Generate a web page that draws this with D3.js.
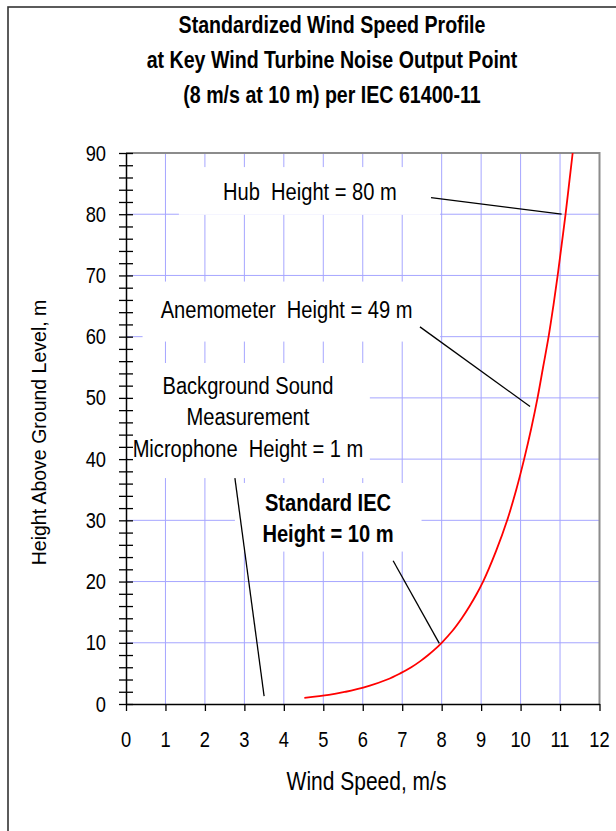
<!DOCTYPE html>
<html><head><meta charset="utf-8">
<script src="https://cdn.jsdelivr.net/npm/d3@7/dist/d3.min.js"></script>
<style>
body{margin:0;background:#fff}
svg{display:block}
text{font-family:"Liberation Sans",Arial,Helvetica,sans-serif;fill:#000;white-space:pre}
</style>
</head><body>
<svg id="c" width="616" height="831"></svg>
<script>
// ---- data ----
const heights = [1,1.5,2,3,4,5,6,7,8,9,10,12,14,16,18,20,25,30,35,40,45,50,55,60,65,70,75,80,85,90];
const speeds  = [4.52,5.14,5.57,6.18,6.62,6.95,7.23,7.46,7.66,7.84,8.00,8.28,8.51,8.71,8.89,9.05,9.38,9.66,9.89,10.09,10.27,10.43,10.57,10.71,10.83,10.94,11.04,11.14,11.23,11.32];
const xTickValues = [0,1,2,3,4,5,6,7,8,9,10,11,12];
const yTickLabels = [0,10,20,30,40,50,60,70,80,90];
const yMinorTicks = d3.range(0, 91, 2);
const titleLines = ["Standardized Wind Speed Profile","at Key Wind Turbine Noise Output Point","(8 m/s at 10 m) per IEC 61400-11"];
const xTitle = "Wind Speed, m/s";
const yTitle = "Height Above Ground Level, m";
// annotation: text lines, text centre (speed, height of first baseline), box extent, leader from/to
const annLines  = [["Hub  Height = 80 m"],["Anemometer  Height = 49 m"],["Background Sound","Measurement","Microphone  Height = 1 m"],["Standard IEC","Height = 10 m"]];
const annBold   = [false,false,false,true];
const annAnchor = [[4.66,82.4],[4.07,63.0],[3.09,50.7],[5.12,31.6]];
const annBox    = [[1.34,7.96,79.9,87.7],[0.42,7.96,59.2,69.0],[0.05,6.18,36.9,55.7],[2.76,7.49,24.9,36.1]];
const annLeader = [[[7.73,82.7],[11.04,80.0]],[[7.45,61.6],[10.24,48.6]],[[2.76,36.9],[3.50,1.3]],[[6.77,23.4],[7.94,9.9]]];

// ---- layout ----
const W = 616, H = 831;
const L = 126, R = 599.5, T = 153, B = 704;
const SY = 1.21; // vertical stretch of the lettering
const svg = d3.select("#c");
const x = d3.scaleLinear().domain([0,12]).range([L,R]);
const y = d3.scaleLinear().domain([0,90]).range([B,T]);

function txt(g, tx, ty, s, size, anchor, bold){
  return g.append("text").attr("transform",`translate(${tx},${ty}) scale(1,${SY})`)
    .attr("xml:space","preserve")
    .attr("text-anchor",anchor).attr("font-size",size).attr("font-weight",bold?"bold":"normal").text(s);
}

// frame
svg.append("rect").attr("x",8).attr("y",7).attr("width",W+20).attr("height",H+20)
  .attr("fill","#fff").attr("stroke","#333").attr("stroke-width",1.6);

// gridlines
const grid = svg.append("g").attr("stroke","#a6a6ff").attr("stroke-width",1);
grid.selectAll("line.v").data(xTickValues.filter(d=>d>0&&d<12)).join("line")
  .attr("x1",d=>x(d)).attr("x2",d=>x(d)).attr("y1",T).attr("y2",B);
grid.selectAll("line.h").data(yTickLabels.filter(d=>d>0&&d<90)).join("line")
  .attr("y1",d=>y(d)).attr("y2",d=>y(d)).attr("x1",L).attr("x2",R);

// white boxes behind labels
svg.append("g").selectAll("rect").data(annBox).join("rect")
  .attr("x",d=>x(d[0])).attr("width",d=>x(d[1])-x(d[0]))
  .attr("y",d=>y(d[3])).attr("height",d=>y(d[2])-y(d[3]))
  .attr("fill","#fff");

// top/right plot border
svg.append("path").attr("d",`M${L},${T}H${R}V${B}`).attr("fill","none").attr("stroke","#8c8c8c").attr("stroke-width",2);

// x axis
const xa = svg.append("g").attr("transform",`translate(0,${B})`)
  .call(d3.axisBottom(x).tickValues(xTickValues).tickSize(7).tickSizeOuter(0).tickFormat(""));
xa.select(".domain").attr("stroke","#000").attr("stroke-width",1.5);
xa.selectAll(".tick line").attr("stroke","#000").attr("stroke-width",1.3);
xTickValues.forEach(v=>txt(svg, x(v), 746.5, String(v), 18.3, "middle", false));

// y axis
const ya = svg.append("g").attr("transform",`translate(${L},0)`)
  .call(d3.axisLeft(y).tickValues(yMinorTicks).tickSize(7).tickSizeOuter(0).tickFormat(""));
ya.select(".domain").attr("stroke","#000").attr("stroke-width",1.5);
ya.selectAll(".tick line").attr("x1",-7).attr("x2",7).attr("stroke","#000").attr("stroke-width",1.3);
yTickLabels.forEach(v=>txt(svg, 106, y(v)+7.6, String(v), 18.3, "end", false));

// curve
svg.append("path").datum(d3.zip(speeds,heights))
  .attr("d", d3.line().x(d=>x(d[0])).y(d=>y(d[1])).curve(d3.curveMonotoneY))
  .attr("fill","none").attr("stroke","#ff0000").attr("stroke-width",1.8);

// leaders
svg.append("g").selectAll("line").data(annLeader).join("line")
  .attr("x1",d=>x(d[0][0])).attr("y1",d=>y(d[0][1])).attr("x2",d=>x(d[1][0])).attr("y2",d=>y(d[1][1]))
  .attr("stroke","#000").attr("stroke-width",1.3);

// annotation texts
annLines.forEach((lines,i)=>{
  lines.forEach((s,j)=>txt(svg, x(annAnchor[i][0]), y(annAnchor[i][1]) + j*31.8, s, 20.1, "middle", annBold[i]));
});

// titles
titleLines.forEach((s,i)=>txt(svg, 332, 33 + i*35, s, 19.6, "middle", true));
txt(svg, 366.5, 790, xTitle, 21, "middle", false);
svg.append("text").attr("transform",`translate(45.5,${(T+B)/2+4}) rotate(-90)`)
  .attr("text-anchor","middle").attr("font-size",19.5).text(yTitle);
</script>
</body></html>
